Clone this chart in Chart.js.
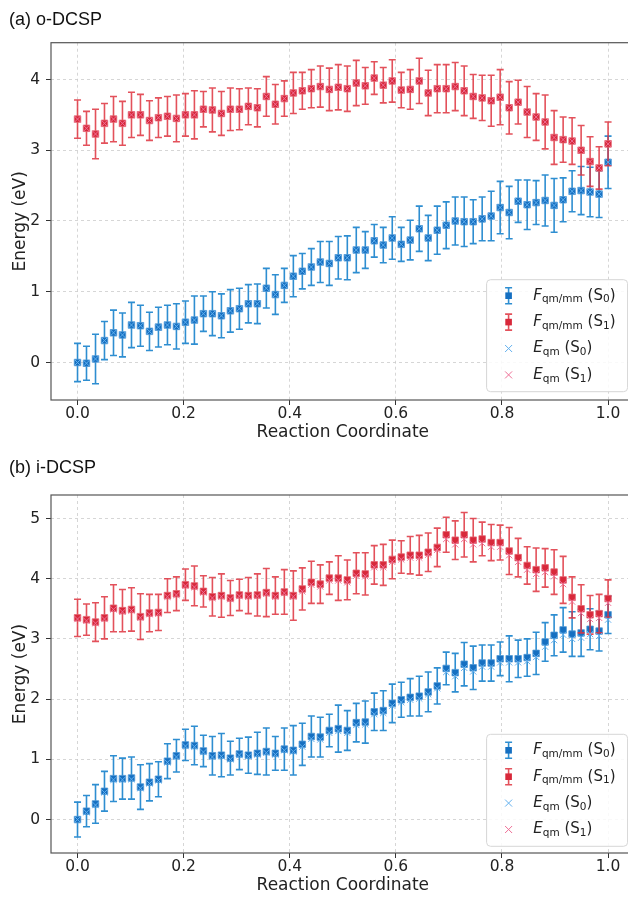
<!DOCTYPE html>
<html>
<head>
<meta charset="utf-8">
<script src="https://cdn.jsdelivr.net/npm/chart.js@4.4.1/dist/chart.umd.min.js"></script>
<style>
    body { margin: 0; background: #fff; }
    #wrap { position: relative; width: 628px; height: 897px; overflow: hidden; }
    .panel { position: absolute; left: 0; }
    .ttl { position: absolute; left: 9px; font: 18px "Liberation Sans", Arial, sans-serif; color: #111; line-height: 22px; z-index: 2; }
</style>
</head>
<body>
<div id="wrap">
    <div class="panel" style="top:0"><canvas id="chartA" width="640" height="449"></canvas></div>
    <div class="panel" style="top:449px"><canvas id="chartB" width="640" height="453"></canvas></div>
    <div class="ttl" style="top:8px">(a) o-DCSP</div>
    <div class="ttl" style="top:456px">(b) i-DCSP</div>
</div>
<script>
// reaction coordinate, 60 evenly spaced frames
const coord = [0, 0.0169, 0.0339, 0.0508, 0.0678, 0.0847, 0.1017, 0.1186, 0.1356, 0.1525,
    0.1695, 0.1864, 0.2034, 0.2203, 0.2373, 0.2542, 0.2712, 0.2881, 0.3051, 0.3220,
    0.3390, 0.3559, 0.3729, 0.3898, 0.4068, 0.4237, 0.4407, 0.4576, 0.4746, 0.4915,
    0.5085, 0.5254, 0.5424, 0.5593, 0.5763, 0.5932, 0.6102, 0.6271, 0.6441, 0.6610,
    0.6780, 0.6949, 0.7119, 0.7288, 0.7458, 0.7627, 0.7797, 0.7966, 0.8136, 0.8305,
    0.8475, 0.8644, 0.8814, 0.8983, 0.9153, 0.9322, 0.9492, 0.9661, 0.9831, 1];

const xTicks = [0, 0.2, 0.4, 0.6, 0.8, 1.0];
const yTicksA = [0, 1, 2, 3, 4];
const yTicksB = [0, 1, 2, 3, 4, 5];

// (a) o-DCSP
const fS0a = [0.00, -0.01, 0.05, 0.31, 0.42, 0.39, 0.53, 0.52, 0.44, 0.50,
    0.53, 0.51, 0.57, 0.60, 0.69, 0.69, 0.66, 0.73, 0.76, 0.83,
    0.83, 1.05, 0.96, 1.09, 1.22, 1.29, 1.35, 1.42, 1.40, 1.48,
    1.48, 1.59, 1.59, 1.72, 1.66, 1.76, 1.67, 1.73, 1.89, 1.76,
    1.87, 1.94, 2.00, 1.99, 1.99, 2.03, 2.07, 2.19, 2.12, 2.28,
    2.23, 2.26, 2.29, 2.22, 2.30, 2.42, 2.43, 2.41, 2.38, 2.83];
const errS0a = [0.27, 0.24, 0.35, 0.27, 0.32, 0.31, 0.32, 0.29, 0.27, 0.28,
    0.28, 0.32, 0.30, 0.34, 0.25, 0.31, 0.31, 0.30, 0.29, 0.27,
    0.28, 0.28, 0.28, 0.24, 0.29, 0.25, 0.26, 0.29, 0.31, 0.30,
    0.31, 0.32, 0.26, 0.23, 0.25, 0.30, 0.24, 0.28, 0.32, 0.32,
    0.34, 0.33, 0.34, 0.35, 0.31, 0.31, 0.35, 0.37, 0.37, 0.30,
    0.35, 0.31, 0.36, 0.38, 0.31, 0.29, 0.34, 0.35, 0.33, 0.37];
const fS1a = [3.44, 3.31, 3.23, 3.38, 3.44, 3.38, 3.50, 3.50, 3.42, 3.46,
    3.48, 3.45, 3.50, 3.50, 3.58, 3.57, 3.52, 3.58, 3.58, 3.62,
    3.60, 3.76, 3.65, 3.73, 3.81, 3.84, 3.87, 3.90, 3.86, 3.89,
    3.87, 3.95, 3.91, 4.02, 3.92, 3.98, 3.85, 3.86, 3.98, 3.81,
    3.87, 3.87, 3.90, 3.84, 3.76, 3.74, 3.70, 3.75, 3.60, 3.68,
    3.54, 3.47, 3.40, 3.18, 3.15, 3.13, 3.00, 2.84, 2.75, 3.09];
const errS1a = [0.27, 0.24, 0.35, 0.28, 0.32, 0.31, 0.32, 0.29, 0.28, 0.28,
    0.28, 0.33, 0.30, 0.34, 0.25, 0.31, 0.31, 0.30, 0.29, 0.26,
    0.27, 0.28, 0.28, 0.25, 0.29, 0.26, 0.27, 0.29, 0.30, 0.32,
    0.32, 0.32, 0.26, 0.23, 0.25, 0.30, 0.25, 0.28, 0.32, 0.32,
    0.34, 0.34, 0.34, 0.35, 0.31, 0.32, 0.36, 0.39, 0.37, 0.31,
    0.36, 0.33, 0.38, 0.38, 0.32, 0.33, 0.35, 0.35, 0.30, 0.31];
// E_qm lies right on the F_qm/mm markers in panel (a)
const eS0a = fS0a;
const eS1a = fS1a;

// (b) i-DCSP
const fS0b = [0.00, 0.14, 0.26, 0.47, 0.68, 0.68, 0.69, 0.54, 0.62, 0.67,
    0.97, 1.06, 1.24, 1.23, 1.14, 1.06, 1.07, 1.02, 1.09, 1.07,
    1.10, 1.13, 1.10, 1.17, 1.15, 1.25, 1.38, 1.37, 1.48, 1.51,
    1.48, 1.61, 1.62, 1.79, 1.81, 1.93, 1.99, 2.03, 2.05, 2.12,
    2.22, 2.51, 2.44, 2.58, 2.52, 2.60, 2.60, 2.67, 2.67, 2.67,
    2.69, 2.76, 2.95, 3.06, 3.15, 3.08, 3.10, 3.16, 3.13, 3.40];
const errS0b = [0.29, 0.26, 0.32, 0.33, 0.38, 0.34, 0.35, 0.37, 0.31, 0.29,
    0.29, 0.27, 0.26, 0.32, 0.26, 0.32, 0.36, 0.28, 0.26, 0.30,
    0.35, 0.39, 0.28, 0.35, 0.41, 0.35, 0.34, 0.33, 0.27, 0.39,
    0.33, 0.32, 0.35, 0.31, 0.33, 0.32, 0.29, 0.31, 0.33, 0.33,
    0.30, 0.27, 0.32, 0.36, 0.36, 0.30, 0.30, 0.28, 0.38, 0.31,
    0.31, 0.35, 0.32, 0.34, 0.37, 0.37, 0.39, 0.34, 0.33, 0.31];
const fS1b = [3.35, 3.32, 3.28, 3.35, 3.51, 3.47, 3.49, 3.37, 3.43, 3.44,
    3.72, 3.75, 3.90, 3.88, 3.79, 3.70, 3.72, 3.68, 3.73, 3.72,
    3.73, 3.77, 3.72, 3.78, 3.72, 3.83, 3.94, 3.91, 4.01, 4.01,
    3.98, 4.09, 4.08, 4.23, 4.23, 4.32, 4.36, 4.39, 4.39, 4.44,
    4.52, 4.73, 4.64, 4.73, 4.64, 4.66, 4.60, 4.60, 4.46, 4.35,
    4.22, 4.15, 4.18, 4.11, 3.98, 3.69, 3.50, 3.40, 3.42, 3.67];
const errS1b = [0.31, 0.26, 0.32, 0.35, 0.39, 0.35, 0.36, 0.38, 0.31, 0.30,
    0.28, 0.28, 0.26, 0.33, 0.26, 0.32, 0.36, 0.29, 0.26, 0.30,
    0.35, 0.40, 0.31, 0.37, 0.41, 0.35, 0.35, 0.32, 0.27, 0.37,
    0.33, 0.34, 0.35, 0.32, 0.34, 0.32, 0.27, 0.31, 0.33, 0.32,
    0.32, 0.29, 0.32, 0.37, 0.36, 0.28, 0.30, 0.29, 0.39, 0.32,
    0.31, 0.36, 0.32, 0.37, 0.39, 0.34, 0.40, 0.32, 0.32, 0.31];
const eS0b = [0.00, 0.12, 0.24, 0.45, 0.66, 0.66, 0.67, 0.52, 0.60, 0.65,
    0.95, 1.04, 1.22, 1.21, 1.12, 1.04, 1.05, 1.00, 1.07, 1.05,
    1.08, 1.11, 1.08, 1.15, 1.13, 1.21, 1.34, 1.33, 1.44, 1.47,
    1.44, 1.57, 1.58, 1.75, 1.77, 1.89, 1.95, 1.99, 2.01, 2.08,
    2.18, 2.45, 2.38, 2.52, 2.46, 2.54, 2.54, 2.61, 2.61, 2.61,
    2.63, 2.70, 2.87, 2.98, 3.07, 3.00, 3.02, 3.08, 3.05, 3.32];
const eS1b = [3.33, 3.30, 3.26, 3.33, 3.49, 3.45, 3.47, 3.35, 3.41, 3.42,
    3.70, 3.73, 3.88, 3.86, 3.77, 3.68, 3.70, 3.66, 3.71, 3.70,
    3.71, 3.75, 3.70, 3.76, 3.70, 3.79, 3.90, 3.87, 3.97, 3.97,
    3.94, 4.05, 4.04, 4.19, 4.19, 4.28, 4.32, 4.35, 4.35, 4.40,
    4.48, 4.66, 4.57, 4.66, 4.57, 4.59, 4.53, 4.53, 4.39, 4.28,
    4.15, 4.08, 4.11, 4.04, 3.91, 3.62, 3.43, 3.33, 3.35, 3.60];

const colors = {
    blue: '#156fc1', blueBar: 'rgba(28,132,205,0.92)', blueEdge: '#4f98d6',
    red: '#d8283a', redBar: 'rgba(222,50,62,0.85)', redEdge: '#e46472',
    lightBlue: '#62b0ee', pink: '#ee6f96'
};

const legendItems = [
    { kind: 'err', color: 'blue', bar: 'blueBar', main: 'F', sub: 'qm/mm', state: '0' },
    { kind: 'err', color: 'red', bar: 'redBar', main: 'F', sub: 'qm/mm', state: '1' },
    { kind: 'x', color: 'lightBlue', main: 'E', sub: 'qm', state: '0' },
    { kind: 'x', color: 'pink', main: 'E', sub: 'qm', state: '1' }
];

const FONT = "'DejaVu Sans', sans-serif";

function drawErr(ctx, x, top, bot, cap) {
    ctx.beginPath();
    ctx.moveTo(x, top);
    ctx.lineTo(x, bot);
    ctx.moveTo(x - cap, top);
    ctx.lineTo(x + cap, top);
    ctx.moveTo(x - cap, bot);
    ctx.lineTo(x + cap, bot);
    ctx.stroke();
}

// vertical error bars, drawn under each F dataset's markers
const errorBars = {
    id: 'errorBars',
    beforeDatasetDraw(chart, args) {
        const ds = chart.data.datasets[args.index];
        if (!ds.errors) return;
        const {ctx, scales: {x, y}} = chart;
        ctx.save();
        ctx.strokeStyle = ds.errorColor;
        ctx.lineWidth = 1.6;
        ds.data.forEach((p, i) => {
            const px = x.getPixelForValue(p.x);
            drawErr(ctx, px, y.getPixelForValue(p.y + ds.errors[i]), y.getPixelForValue(p.y - ds.errors[i]), 3.5);
        });
        ctx.restore();
    }
};

// matplotlib-like frame around the axes
const frame = {
    id: 'frame',
    afterDatasetsDraw(chart) {
        const {ctx, chartArea: a} = chart;
        ctx.save();
        ctx.strokeStyle = '#555';
        ctx.lineWidth = 1.2;
        ctx.strokeRect(a.left, a.top, a.right - a.left, a.bottom - a.top);
        ctx.restore();
    }
};

function drawLabel(ctx, x, y, item) {
    const big = '15px ' + FONT, small = '10.5px ' + FONT;
    const parts = [
        ['italic ' + big, item.main, 0],
        [small, item.sub, 4],
        [big, ' (S', 0],
        [small, item.state, 4],
        [big, ')', 0]
    ];
    parts.forEach(([f, t, dy]) => {
        ctx.font = f;
        ctx.fillText(t, x, y + dy);
        x += ctx.measureText(t).width;
    });
}

const mplLegend = {
    id: 'mplLegend',
    afterDraw(chart, args, opts) {
        const {ctx, chartArea} = chart;
        const w = 141, h = 112;
        const left = chartArea.right - 7 - w;
        const top = chartArea.bottom - opts.gap - h;
        ctx.save();
        ctx.beginPath();
        const r = 4;
        ctx.moveTo(left + r, top);
        ctx.arcTo(left + w, top, left + w, top + h, r);
        ctx.arcTo(left + w, top + h, left, top + h, r);
        ctx.arcTo(left, top + h, left, top, r);
        ctx.arcTo(left, top, left + w, top, r);
        ctx.closePath();
        ctx.fillStyle = 'rgba(255,255,255,0.85)';
        ctx.fill();
        ctx.strokeStyle = '#d6d6d6';
        ctx.lineWidth = 1;
        ctx.stroke();

        legendItems.forEach((item, k) => {
            const cy = top + 16 + k * 26.4;
            const sx = left + 22;
            if (item.kind === 'err') {
                ctx.strokeStyle = colors[item.bar];
                ctx.lineWidth = 1.6;
                drawErr(ctx, sx, cy - 8, cy + 8, 3.5);
                ctx.fillStyle = colors[item.color];
                ctx.fillRect(sx - 3.3, cy - 3.3, 6.6, 6.6);
            } else {
                ctx.strokeStyle = colors[item.color];
                ctx.lineWidth = 1;
                ctx.beginPath();
                ctx.moveTo(sx - 3.5, cy - 3.5); ctx.lineTo(sx + 3.5, cy + 3.5);
                ctx.moveTo(sx - 3.5, cy + 3.5); ctx.lineTo(sx + 3.5, cy - 3.5);
                ctx.stroke();
            }
            ctx.fillStyle = '#222';
            ctx.textBaseline = 'middle';
            drawLabel(ctx, left + 46.7, cy, item);
        });
        ctx.restore();
    }
};

function toPoints(vals) {
    return coord.map((c, i) => ({ x: c, y: vals[i] }));
}

function drawPanel(canvasId, p) {
    const tickFont = { family: FONT, size: 15.5 };
    const titleFont = { family: FONT, size: 17 };
    new Chart(document.getElementById(canvasId), {
        type: 'scatter',
        data: {
            datasets: [
                {
                    label: 'F S0', data: toPoints(p.fS0), errors: p.errS0, errorColor: colors.blueBar,
                    pointStyle: 'rect', pointRadius: 4.6, pointBackgroundColor: colors.blue,
                    pointBorderColor: colors.blueEdge, pointBorderWidth: 0.8, order: 3
                },
                {
                    label: 'F S1', data: toPoints(p.fS1), errors: p.errS1, errorColor: colors.redBar,
                    pointStyle: 'rect', pointRadius: 4.6, pointBackgroundColor: colors.red,
                    pointBorderColor: colors.redEdge, pointBorderWidth: 0.8, order: 2
                },
                {
                    label: 'E S0', data: toPoints(p.eS0), pointStyle: 'crossRot', pointRadius: 4.4,
                    pointBorderColor: colors.lightBlue, pointBorderWidth: 1, order: 1
                },
                {
                    label: 'E S1', data: toPoints(p.eS1), pointStyle: 'crossRot', pointRadius: 4.4,
                    pointBorderColor: colors.pink, pointBorderWidth: 1, order: 0
                }
            ]
        },
        options: {
            responsive: false,
            animation: false,
            events: [],
            layout: { padding: { top: p.padTop, right: 4, left: 0, bottom: 0 } },
            plugins: {
                legend: { display: false },
                tooltip: { enabled: false },
                mplLegend: { gap: p.legendGap }
            },
            scales: {
                x: {
                    type: 'linear', min: -0.05, max: 1.05,
                    afterFit: s => { s.height = 49; },
                    afterBuildTicks: s => { s.ticks = xTicks.map(v => ({ value: v })); },
                    ticks: { font: tickFont, color: '#222', padding: 0, maxRotation: 0,
                        callback: v => v.toFixed(1) },
                    grid: { color: '#cccccc', lineWidth: 0.8, tickLength: 5, tickColor: '#333',
                        tickWidth: 1, tickBorderDash: [] },
                    border: { display: false, dash: [3, 3] },
                    title: { display: true, text: 'Reaction Coordinate', font: titleFont, color: '#222',
                        padding: { top: 0, bottom: 6.4 } }
                },
                y: {
                    min: p.yMin, max: p.yMax,
                    afterFit: s => { s.width = 51; },
                    afterBuildTicks: s => { s.ticks = p.yTicks.map(v => ({ value: v })); },
                    ticks: { font: tickFont, color: '#222', padding: 6, callback: v => v },
                    grid: { color: '#cccccc', lineWidth: 0.8, tickLength: 5, tickColor: '#333',
                        tickWidth: 1, tickBorderDash: [] },
                    border: { display: false, dash: [3, 3] },
                    title: { display: true, text: 'Energy (eV)', font: titleFont, color: '#222',
                        padding: { top: 10.4, bottom: 0 } }
                }
            }
        },
        plugins: [errorBars, frame, mplLegend]
    });
}

drawPanel('chartA', {
    fS0: fS0a, errS0: errS0a, fS1: fS1a, errS1: errS1a, eS0: eS0a, eS1: eS1a,
    yMin: -0.53, yMax: 4.52, yTicks: yTicksA, padTop: 42.7, legendGap: 8.3
});
drawPanel('chartB', {
    fS0: fS0b, errS0: errS0b, fS1: fS1b, errS1: errS1b, eS0: eS0b, eS1: eS1b,
    yMin: -0.555, yMax: 5.39, yTicks: yTicksB, padTop: 46, legendGap: 6.7
});
</script>
</body>
</html>
